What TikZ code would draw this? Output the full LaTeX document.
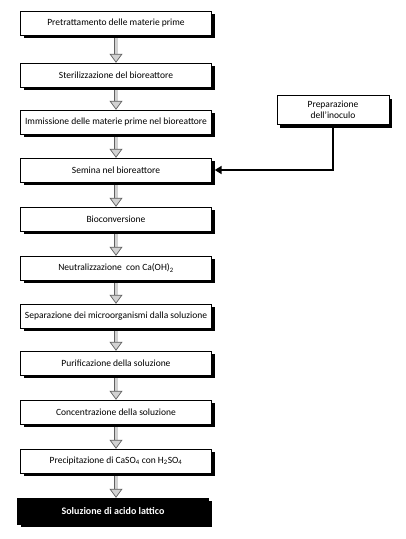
\documentclass[tikz,border=0pt]{standalone}
\usepackage{fontspec}
\setmainfont{Carlito}
\usepackage{xcolor}
\usepackage{tikz}
\usetikzlibrary{arrows.meta,shadows}

\begin{document}
\begin{tikzpicture}[x=1pt,y=-1pt]
		\tikzstyle{phasebox}=[draw,fill=white,minimum width=191pt,minimum height=24pt,inner sep=1pt,font=\fontsize{9.5}{11}\selectfont,
			drop shadow={shadow xshift=3pt,shadow yshift=-3pt,fill=black,opacity=1}]
		\tikzstyle{flowarrow}=[line width=0.7pt,draw=gray!75!black,double=gray!35,double distance=3pt,shorten <=3pt,
			-{Triangle[width=13pt,length=9pt,fill=gray!35,color=gray!75!black,line width=0.7pt]}]
		\useasboundingbox (0,0) rectangle (405,539);

		\node[phasebox] (pretreat) at (116,23) {Pretrattamento delle materie prime};
		\node[phasebox] (steril) at (116,75) {Sterilizzazione del bioreattore};
		\node[phasebox] (feed) at (116,122) {Immissione delle materie prime nel bioreattore};
		\node[phasebox] (seed) at (116,170) {Semina nel bioreattore};
		\node[phasebox] (bioconv) at (116,219) {Bioconversione};
		\node[phasebox] (neutral) at (116,268) {Neutralizzazione\ \ con Ca(OH)\textsubscript{2}};
		\node[phasebox] (separ) at (116,316) {Separazione dei microorganismi dalla soluzione};
		\node[phasebox] (purif) at (116,363) {Purificazione della soluzione};
		\node[phasebox] (concent) at (116,412) {Concentrazione della soluzione};
		\node[phasebox] (precip) at (116,461) {Precipitazione di CaSO\textsubscript{4} con H\textsubscript{2}SO\textsubscript{4}};
		\node[phasebox,fill=black,text=white,font=\fontsize{10}{12}\selectfont\bfseries,minimum height=26pt] (lactic) at (113,511) {Soluzione di acido lattico};

		\node[phasebox,minimum width=112pt,minimum height=29pt,align=center] (inoculum) at (333,110) {Preparazione\\dell’inoculo};

		\draw[flowarrow] (pretreat) -- (steril);
		\draw[flowarrow] (steril) -- (feed);
		\draw[flowarrow] (feed) -- (seed);
		\draw[flowarrow] (seed) -- (bioconv);
		\draw[flowarrow] (bioconv) -- (neutral);
		\draw[flowarrow] (neutral) -- (separ);
		\draw[flowarrow] (separ) -- (purif);
		\draw[flowarrow] (purif) -- (concent);
		\draw[flowarrow] (concent) -- (precip);
		\draw[flowarrow] (precip) -- (lactic.north -| precip.south);

		\draw[line width=2.5pt,shorten >=3pt,-{Triangle[width=8pt,length=7pt]}] (inoculum.south) |- (seed.east);

	\end{tikzpicture}
\end{document}
